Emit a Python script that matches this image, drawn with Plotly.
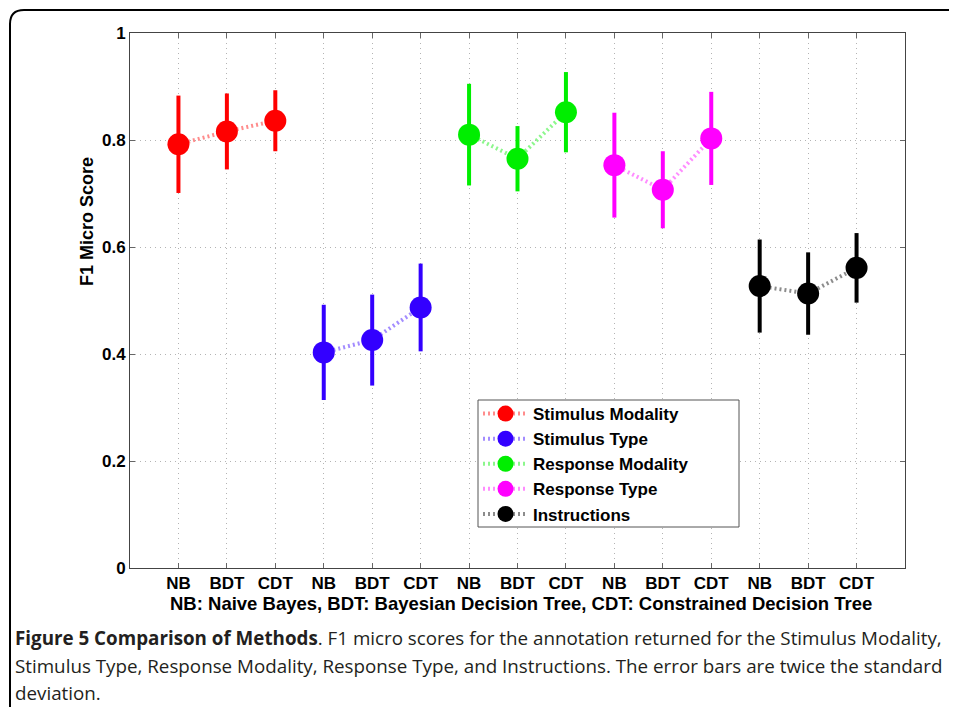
import plotly.graph_objects as go

groups = ["Stimulus Modality", "Stimulus Type", "Response Modality", "Response Type", "Instructions"]
methods = ["NB", "BDT", "CDT"]
colors = ["#ff0000", "#3300ff", "#00ee00", "#ff00ff", "#000000"]
line_colors = ["rgba(255,0,0,0.45)", "rgba(51,0,255,0.45)", "rgba(0,238,0,0.45)",
               "rgba(255,0,255,0.45)", "rgba(0,0,0,0.45)"]

stim_mod = [0.792, 0.816, 0.836]
stim_mod_err = [0.091, 0.071, 0.057]
stim_type = [0.403, 0.426, 0.487]
stim_type_err = [0.089, 0.085, 0.082]
resp_mod = [0.810, 0.765, 0.852]
resp_mod_err = [0.095, 0.061, 0.075]
resp_type = [0.753, 0.707, 0.803]
resp_type_err = [0.098, 0.072, 0.087]
instr = [0.527, 0.513, 0.561]
instr_err = [0.087, 0.077, 0.065]

values = [stim_mod, stim_type, resp_mod, resp_type, instr]
errors = [stim_mod_err, stim_type_err, resp_mod_err, resp_type_err, instr_err]

tick_labels = methods * len(groups)
tick_positions = list(range(1, len(tick_labels) + 1))

fig = go.Figure()
for gi, (name, vals, errs) in enumerate(zip(groups, values, errors)):
    xs = [gi * 3 + k + 1 for k in range(3)]
    fig.add_trace(go.Scatter(
        x=xs, y=vals, name=name, mode="lines+markers",
        line=dict(color=line_colors[gi], width=4, dash="2px,3px"),
        marker=dict(color=colors[gi], size=22, symbol="circle"),
        error_y=dict(type="data", array=errs, visible=True, color=colors[gi],
                     thickness=4, width=0),
        legendgroup=name,
    ))

font_bold = "Liberation Sans"

# page (957x707) -> paper coords; page body has an 8px offset
pw, ph = 775.0, 535.0
def px_x(p):
    return (p - 130) / pw
def px_y(p):
    return (568 - p) / ph

fig.update_layout(
    width=949, height=699,
    margin=dict(l=122, r=52, t=25, b=139),
    paper_bgcolor="white", plot_bgcolor="white",
    font=dict(family=font_bold, color="black"),
    showlegend=True,
    legend=dict(
        x=px_x(478), y=px_y(396), xanchor="left", yanchor="top",
        borderwidth=0, bgcolor="rgba(0,0,0,0)",
        font=dict(family=font_bold, size=17, color="black", weight="bold"),
        tracegroupgap=0, traceorder="grouped",
        itemwidth=45,
    ),
    xaxis=dict(
        range=[0, 16], tickvals=tick_positions, ticktext=tick_labels,
        ticks="inside", ticklen=5, tickcolor="#666",
        showline=True, linecolor="#444", linewidth=1, mirror="ticks",
        showgrid=True, gridcolor="#b4b4b4", griddash="1px,4px", gridwidth=1,
        zeroline=False,
        tickfont=dict(family=font_bold, size=17, weight="bold"),
        automargin=False,
    ),
    yaxis=dict(
        range=[0, 1], tickvals=[0, 0.2, 0.4, 0.6, 0.8, 1],
        ticktext=["0", "0.2", "0.4", "0.6", "0.8", "1"],
        ticks="inside", ticklen=5, tickcolor="#666",
        showline=True, linecolor="#444", linewidth=1, mirror="ticks",
        showgrid=True, gridcolor="#b4b4b4", griddash="1px,4px", gridwidth=1,
        zeroline=False,
        tickfont=dict(family=font_bold, size=17, weight="bold"),
        automargin=False,
    ),
)

# legend frame
fig.add_shape(type="rect", xref="paper", yref="paper",
              x0=px_x(478), x1=px_x(739), y0=px_y(527), y1=px_y(400),
              line=dict(color="#555", width=1), fillcolor="white", layer="above")

# axis titles
fig.add_annotation(text="<b>NB: Naive Bayes, BDT: Bayesian Decision Tree, CDT: Constrained Decision Tree</b>",
                   xref="paper", yref="paper", x=px_x(521), y=px_y(603),
                   xanchor="center", yanchor="middle", showarrow=False,
                   font=dict(family=font_bold, size=18.5, color="black"))
fig.add_annotation(text="<b>F1 Micro Score</b>", textangle=-90,
                   xref="paper", yref="paper", x=px_x(87), y=px_y(222),
                   xanchor="center", yanchor="middle", showarrow=False,
                   font=dict(family=font_bold, size=18, color="black"))

# outer rounded frame
x0, yt = px_x(10), px_y(10)
xr, yb = px_x(980), px_y(730)
dx, dy = 14 / pw, 14 / ph
path = (f"M {x0},{yb} L {x0},{yt - dy} Q {x0},{yt} {x0 + dx},{yt} L {xr},{yt}")
fig.add_shape(type="path", path=path, xref="paper", yref="paper",
              line=dict(color="black", width=2))

cap_font = dict(family="Open Sans", size=18.8, color="#231f20")
captions = [
    "<b>Figure 5 Comparison of Methods</b>. F1 micro scores for the annotation returned for the Stimulus Modality,",
    "Stimulus Type, Response Modality, Response Type, and Instructions. The error bars are twice the standard",
    "deviation.",
]
for i, line in enumerate(captions):
    fig.add_annotation(text=line, xref="paper", yref="paper",
                       x=px_x(13), y=px_y(638 + 27.5 * i), xanchor="left", yanchor="middle",
                       showarrow=False, font=cap_font, align="left")

fig.write_html("out.html")
